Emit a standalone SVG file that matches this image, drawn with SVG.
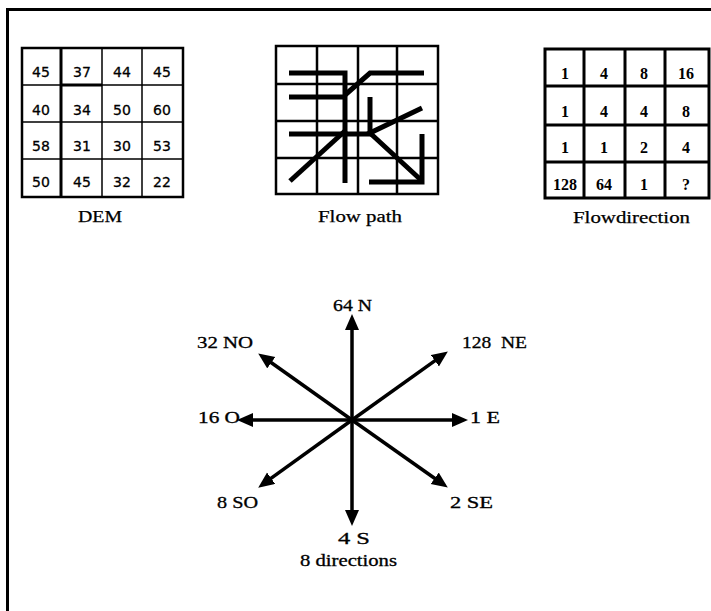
<svg xmlns="http://www.w3.org/2000/svg" width="711" height="611" viewBox="0 0 711 611">
<style>
.num{font-family:"DejaVu Sans","Liberation Sans",sans-serif;font-size:14px;fill:#000;text-anchor:middle;stroke:#000;stroke-width:0.3}
.fd{font-family:"Liberation Serif",serif;font-size:16px;font-weight:bold;fill:#000;text-anchor:middle}
.lbl{font-family:"Liberation Serif",serif;font-size:16px;fill:#000;stroke:#000;stroke-width:0.25}
.cl{font-family:"Liberation Serif",serif;font-size:16px;fill:#000;stroke:#000;stroke-width:0.3}
.g{fill:none;stroke:#000}
.fp{fill:none;stroke:#000;stroke-width:5;stroke-linejoin:miter}
.ar{stroke:#000;stroke-width:3.5}
</style>
<defs>
<marker id="ah" markerUnits="userSpaceOnUse" markerWidth="17" markerHeight="15" refX="5" refY="7" orient="auto">
<path d="M0,0 L16,7 L0,14 z" fill="#000"/>
</marker>
</defs>
<rect width="711" height="611" fill="#fff"/>
<path d="M6,9.5 H711 M7.5,8 V611" stroke="#000" stroke-width="3" fill="none"/>

<g id="dem">
<rect x="22" y="48" width="161" height="149" class="g" stroke-width="2.5"/>
<path d="M61,48 V197" class="g" stroke-width="3"/>
<path d="M102,48 V197 M142,48 V197" class="g" stroke-width="1.5"/>
<path d="M22,85 H183 M22,122 H183 M22,159 H183" class="g" stroke-width="1.5"/>
<path d="M61,85 H102" class="g" stroke-width="3"/>
<text class="num" x="41" y="77">45</text><text class="num" x="82" y="77">37</text><text class="num" x="122" y="77">44</text><text class="num" x="162" y="77">45</text>
<text class="num" x="41" y="115">40</text><text class="num" x="82" y="115">34</text><text class="num" x="122" y="115">50</text><text class="num" x="162" y="115">60</text>
<text class="num" x="41" y="151">58</text><text class="num" x="82" y="151">31</text><text class="num" x="122" y="151">30</text><text class="num" x="162" y="151">53</text>
<text class="num" x="41" y="187">50</text><text class="num" x="82" y="187">45</text><text class="num" x="122" y="187">32</text><text class="num" x="162" y="187">22</text>
<text class="lbl" x="78" y="222" textLength="44" lengthAdjust="spacingAndGlyphs">DEM</text>
</g>

<g id="flowpath">
<rect x="276" y="46" width="162" height="148" class="g" stroke-width="2.5"/>
<path d="M317,46 V194 M358,46 V194 M397,46 V194 M276,84 H438 M276,121 H438 M276,158 H438" class="g" stroke-width="2.5"/>
<path class="fp" d="M289,73 H345 V183"/>
<path class="fp" d="M289,97 H345"/>
<path class="fp" d="M289,134 H371"/>
<path class="fp" d="M290,181 L346,130"/>
<path class="fp" d="M345,95 L370,73 H424"/>
<path class="fp" d="M370,97 V135"/>
<path class="fp" d="M422,108 L370,133 L421,180"/>
<path class="fp" d="M422,134 V182 H369"/>
<text class="lbl" x="318" y="222" textLength="84" lengthAdjust="spacingAndGlyphs">Flow path</text>
</g>

<g id="flowdirection">
<rect x="545" y="49" width="164" height="149" class="g" stroke-width="3"/>
<path d="M584,49 V198 M625,49 V198 M665,49 V198 M545,86 H709 M545,125 H709 M545,162 H709" class="g" stroke-width="3"/>
<text class="fd" x="565" y="79">1</text><text class="fd" x="604" y="79">4</text><text class="fd" x="644" y="79">8</text><text class="fd" x="686" y="79">16</text>
<text class="fd" x="565" y="117">1</text><text class="fd" x="604" y="117">4</text><text class="fd" x="644" y="117">4</text><text class="fd" x="686" y="117">8</text>
<text class="fd" x="565" y="153">1</text><text class="fd" x="604" y="153">1</text><text class="fd" x="644" y="153">2</text><text class="fd" x="686" y="153">4</text>
<text class="fd" x="565" y="190">128</text><text class="fd" x="604" y="190">64</text><text class="fd" x="644" y="190">1</text><text class="fd" x="686" y="190">?</text>
<text class="lbl" x="573" y="223" textLength="117" lengthAdjust="spacingAndGlyphs">Flowdirection</text>
</g>

<g id="connectors">
<line class="ar" x1="352" y1="420" x2="352" y2="325" stroke-width="4" marker-end="url(#ah)"/>
<line class="ar" x1="352" y1="420" x2="352" y2="515" stroke-width="4" marker-end="url(#ah)"/>
<line class="ar" x1="352" y1="420" x2="457" y2="420" marker-end="url(#ah)"/>
<line class="ar" x1="352" y1="420" x2="248" y2="420" marker-end="url(#ah)"/>
<line class="ar" x1="352" y1="420" x2="438.9" y2="357.8" marker-end="url(#ah)"/>
<line class="ar" x1="352" y1="420" x2="267.2" y2="359.8" marker-end="url(#ah)"/>
<line class="ar" x1="352" y1="420" x2="267.1" y2="481.2" marker-end="url(#ah)"/>
<line class="ar" x1="352" y1="420" x2="438.8" y2="481.2" marker-end="url(#ah)"/>
</g>

<g id="compass-labels">
<text class="cl" x="333" y="311" textLength="39" lengthAdjust="spacingAndGlyphs">64 N</text>
<text class="cl" x="197" y="348" textLength="56" lengthAdjust="spacingAndGlyphs">32 NO</text>
<text class="cl" x="462" y="348" xml:space="preserve" textLength="65" lengthAdjust="spacingAndGlyphs">128  NE</text>
<text class="cl" x="198" y="423" textLength="42" lengthAdjust="spacingAndGlyphs">16 O</text>
<text class="cl" x="470" y="423" textLength="30" lengthAdjust="spacingAndGlyphs">1 E</text>
<text class="cl" x="217" y="508" textLength="41" lengthAdjust="spacingAndGlyphs">8 SO</text>
<text class="cl" x="450" y="508" textLength="43" lengthAdjust="spacingAndGlyphs">2 SE</text>
<text class="cl" x="338" y="544" textLength="32" lengthAdjust="spacingAndGlyphs">4 S</text>
<text class="cl" x="300" y="566" textLength="97" lengthAdjust="spacingAndGlyphs">8 directions</text>
</g>
</svg>
